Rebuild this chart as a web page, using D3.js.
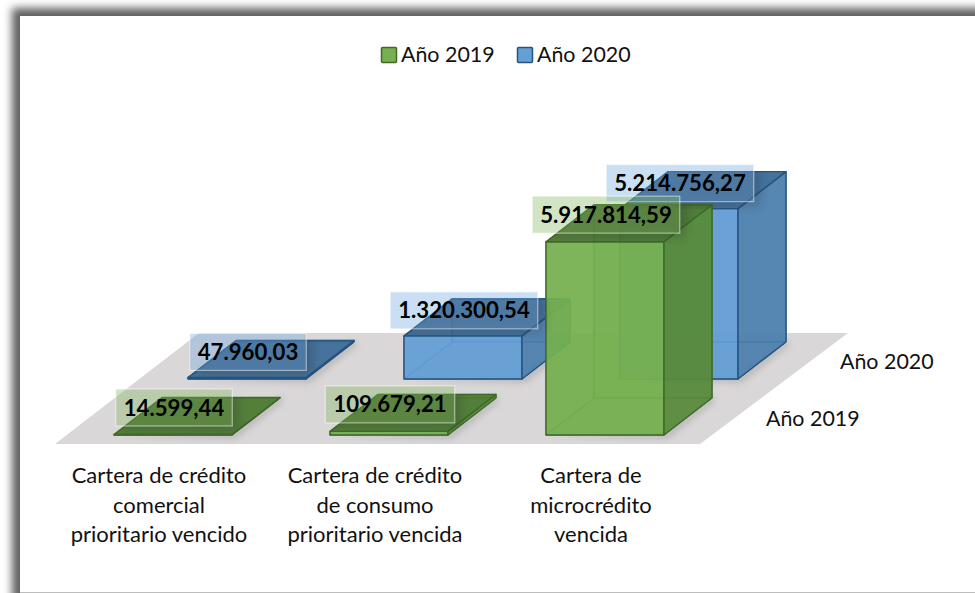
<!DOCTYPE html>
<html><head><meta charset="utf-8">
<script src="https://cdn.jsdelivr.net/npm/d3@7/dist/d3.min.js"></script>
<style>html,body{margin:0;padding:0;background:#fff;overflow:hidden}svg{display:block;font-family:Lato,"Open Sans",sans-serif}</style>
</head><body><svg id="c" width="975" height="593"></svg>
<script>
const categories = ["Cartera de crédito comercial prioritario vencido","Cartera de crédito de consumo prioritario vencida","Cartera de microcrédito vencida"];
const categoryLines = [["Cartera de crédito","comercial","prioritario vencido"],["Cartera de crédito","de consumo","prioritario vencida"],["Cartera de","microcrédito","vencida"]];
const seriesNames = ["Año 2019","Año 2020"];
const values2019 = [14599.44,109679.21,5917814.59];
const values2020 = [47960.03,1320300.54,5214756.27];
const labels2019 = ["14.599,44","109.679,21","5.917.814,59"];
const labels2020 = ["47.960,03","1.320.300,54","5.214.756,27"];

const svg = d3.select("#c");
const defs = svg.append("defs");
[["b4",4],["b3",3],["b5",5]].forEach(([id,s])=>{
  defs.append("filter").attr("id",id).attr("x","-50%").attr("y","-50%").attr("width","200%").attr("height","200%")
    .append("feGaussianBlur").attr("stdDeviation",s);
});

// frame
svg.append("rect").attr("x",12).attr("y",8).attr("width",1000).attr("height",640).attr("fill","#606060").attr("filter","url(#b4)");
svg.append("rect").attr("x",20).attr("y",16).attr("width",960).attr("height",576).attr("fill","#fff");
svg.append("line").attr("x1",20).attr("x2",975).attr("y1",592.5).attr("y2",592.5).attr("stroke","#bdbdbd");

const x = d3.scaleBand().domain(categories).range([114,664]).paddingInner(98/216);
const h = d3.scaleLinear().domain([0,6000000]).range([0,196]);
const sx = d3.scalePoint().domain(seriesNames).range([0,74]);
const sy = d3.scalePoint().domain(seriesNames).range([435,379]);
const DX = 48, DY = -37;

// floor
const floorPts = [[55,444],[700,444],[848,333],[199,333]];
svg.append("polygon").attr("points",floorPts.join(" ")).attr("fill","#d9d7d8");

const styles = {
 "Año 2019":{front:"#76b050",side:"#58893c",top:"#4d7a34",stroke:"#3f6a28",hidden:"#5f9a3e",box:"#7fb85c"},
 "Año 2020":{front:"#649fd6",side:"#4e80ad",top:"#3f6d98",stroke:"#25557f",hidden:"#4f8bc0",box:"#6ba6de"}
};
const poly = (g,pts,fill,op,stroke,sw)=>g.append("polygon").attr("points",pts.join(" "))
   .attr("fill",fill).attr("fill-opacity",op).attr("stroke",stroke).attr("stroke-width",sw).attr("stroke-linejoin","round");

function bar(cat,i,name,vals,labels){
  const st = styles[name];
  const x0 = x(cat)+sx(name), x1 = x0+x.bandwidth(), yb = sy(name), yt = yb-h(vals[i]);
  const g = svg.append("g").attr("class","bar");
  // ground shadow
  g.append("polygon").attr("points",[[x0+4,yb+2],[x1+4,yb+4],[x1+DX+4,yb+DY+3],[x1+DX,yb+DY-2],[x1,yb-4]].join(" "))
    .attr("fill","#555").attr("opacity",.22).attr("filter","url(#b3)");
  // hidden faces
  poly(g,[[x0+DX,yb+DY],[x1+DX,yb+DY],[x1+DX,yt+DY],[x0+DX,yt+DY]],st.hidden,.55,st.stroke,1);
  poly(g,[[x0,yb],[x0+DX,yb+DY],[x0+DX,yt+DY],[x0,yt]],st.hidden,.35,st.stroke,1);
  poly(g,[[x0,yb],[x1,yb],[x1+DX,yb+DY],[x0+DX,yb+DY]],st.hidden,.45,st.stroke,1);
  // visible faces
  poly(g,[[x0,yb],[x1,yb],[x1,yt],[x0,yt]],st.front,.9,st.stroke,1.4);
  poly(g,[[x1,yb],[x1+DX,yb+DY],[x1+DX,yt+DY],[x1,yt]],st.side,.9,st.stroke,1.4);
  poly(g,[[x0,yt],[x1,yt],[x1+DX,yt+DY],[x0+DX,yt+DY]],st.top,.92,st.stroke,1.4);
  return {x0,x1,yt,yb,st,label:labels[i],name};
}
const placed = [];
categories.forEach((c,i)=>placed.push(bar(c,i,"Año 2020",values2020,labels2020)));
categories.forEach((c,i)=>placed.push(bar(c,i,"Año 2019",values2019,labels2019)));

// value labels
const lay = svg.append("g");
placed.forEach((p,k)=>{
  const cx = (p.x0+p.x1)/2+1, cy = p.yt-(p.name==="Año 2019"?27:25.5);
  const clipId = "cl"+k;
  defs.append("clipPath").attr("id",clipId).append("polygon")
    .attr("points",[[p.x0,p.yt],[p.x1,p.yt],[p.x1,p.yb],[p.x1+DX,p.yb+DY],[p.x1+DX,p.yt+DY],[p.x0+DX,p.yt+DY]].join(" "));
  const shade = lay.append("g").attr("clip-path",`url(#${clipId})`);
  const box = lay.append("rect");
  const t = lay.append("text").attr("x",cx).attr("y",cy+8).attr("text-anchor","middle")
     .attr("font-size",22.2).attr("font-weight",700).attr("fill","#000").text(p.label);
  const w = t.node().getComputedTextLength()+16;
  shade.append("rect").attr("x",cx-w/2+6).attr("y",cy-14).attr("width",w).attr("height",37)
     .attr("fill","#222").attr("opacity",.22).attr("filter","url(#b5)");
  box.attr("x",cx-w/2).attr("y",cy-18.5).attr("width",w).attr("height",37)
     .attr("fill",p.st.box).attr("fill-opacity",.36).attr("stroke","#fff").attr("stroke-opacity",.5).attr("stroke-width",1.2);
});

// category labels
categories.forEach((c,i)=>{
  const cx = x(c)+x.bandwidth()/2-14;
  categoryLines[i].forEach((ln,j)=>{
    svg.append("text").attr("x",cx).attr("y",483+j*29.5).attr("text-anchor","middle")
      .attr("font-size",22).attr("fill","#111").text(ln);
  });
});
// series labels
seriesNames.forEach(n=>{
  svg.append("text").attr("x",766+sx(n)).attr("y",426-sx(n)*57/74).attr("font-size",21.4).attr("fill","#111").text(n);
});
// legend
const legX = d3.scalePoint().domain(seriesNames).range([381,517]);
seriesNames.forEach(n=>{
  svg.append("rect").attr("x",legX(n)+.5).attr("y",47.5).attr("width",15).attr("height",15).attr("rx",1)
    .attr("fill",styles[n].front).attr("stroke",styles[n].stroke).attr("stroke-width",1.5);
  svg.append("text").attr("x",legX(n)+20).attr("y",62).attr("font-size",21.4).attr("fill","#111").text(n);
});
</script></body></html>
